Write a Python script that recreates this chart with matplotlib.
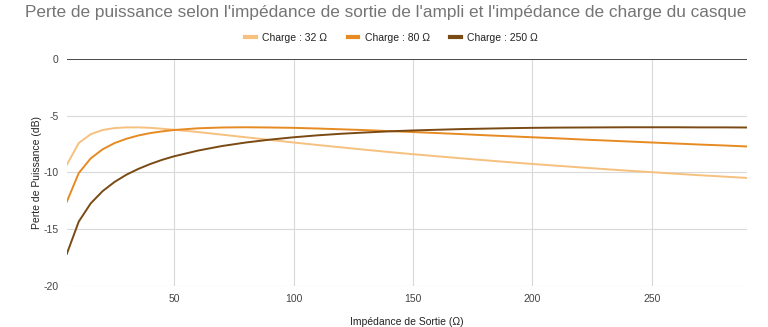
import matplotlib.pyplot as plt

plt.rcParams['font.family'] = ['Liberation Sans', 'DejaVu Sans']
plt.rcParams['axes.unicode_minus'] = False

# output impedance (ohm)
x = [5, 10, 15, 20, 25, 30, 35, 40, 45, 50, 60, 70, 80, 90, 100, 110, 120,
     130, 140, 150, 160, 170, 180, 190, 200, 210, 220, 230, 240, 250, 260,
     270, 280, 290]

# power loss (dB) per headphone load
loss_32 = [-9.32, -7.41, -6.63, -6.26, -6.09, -6.03, -6.03, -6.07, -6.15, -6.24,
           -6.44, -6.67, -6.90, -7.13, -7.36, -7.58, -7.79, -8.00, -8.20, -8.39,
           -8.57, -8.75, -8.92, -9.09, -9.25, -9.40, -9.55, -9.70, -9.84, -9.97,
           -10.11, -10.24, -10.36, -10.48]
loss_80 = [-12.57, -10.05, -8.76, -7.96, -7.41, -7.03, -6.74, -6.53, -6.38, -6.26,
           -6.11, -6.04, -6.02, -6.04, -6.07, -6.13, -6.20, -6.27, -6.36, -6.44,
           -6.53, -6.62, -6.72, -6.81, -6.90, -6.99, -7.09, -7.18, -7.27, -7.36,
           -7.45, -7.54, -7.62, -7.71]
loss_250 = [-17.16, -14.32, -12.72, -11.64, -10.83, -10.19, -9.68, -9.25, -8.88, -8.57,
            -8.07, -7.67, -7.36, -7.11, -6.90, -6.73, -6.59, -6.48, -6.38, -6.30,
            -6.24, -6.18, -6.14, -6.10, -6.07, -6.05, -6.04, -6.03, -6.02, -6.02,
            -6.02, -6.03, -6.03, -6.04]

labels = ['Charge : 32 Ω', 'Charge : 80 Ω', 'Charge : 250 Ω']
colors = ['#f6c07f', '#e68a22', '#7a4a14']

fig = plt.figure(figsize=(7.68, 3.27), dpi=100)
ax = fig.add_axes([0.087, 0.125, 0.886, 0.695])

for ys, lab, c in zip([loss_32, loss_80, loss_250], labels, colors):
    ax.plot(x, ys, color=c, linewidth=1.4, label=lab)

ax.set_xlim(5, 290)
ax.set_ylim(-20, 0)
ax.set_xticks([50, 100, 150, 200, 250])
ax.set_yticks([-20, -15, -10, -5, 0])
ax.grid(True, color='#d9d9d9', linewidth=0.8)
ax.set_axisbelow(True)
ax.axhline(0, color='#333333', linewidth=1.2)
for s in ax.spines.values():
    s.set_visible(False)
ax.tick_params(length=0, labelsize=7.5, colors='#444444', pad=6)

ax.set_xlabel('Impédance de Sortie (Ω)', fontsize=7.5, color='#222222', labelpad=9)
ax.set_ylabel('Perte de Puissance (dB)', fontsize=7.5, color='#222222', labelpad=1)

fig.text(0.032, 0.985, "Perte de puissance selon l'impédance de sortie de l'ampli et l'impédance de charge du casque",
         fontsize=12.4, color='#757575', ha='left', va='top')
fig.legend(loc='center', bbox_to_anchor=(0.51, 0.885), ncol=3, frameon=False,
           fontsize=7.5, handlelength=1.0, handletextpad=0.6, columnspacing=2.0)
for t in fig.legends[0].get_texts():
    t.set_color('#222222')
for h in fig.legends[0].get_lines():
    h.set_linewidth(3)

fig.savefig('out.png', dpi=100)
